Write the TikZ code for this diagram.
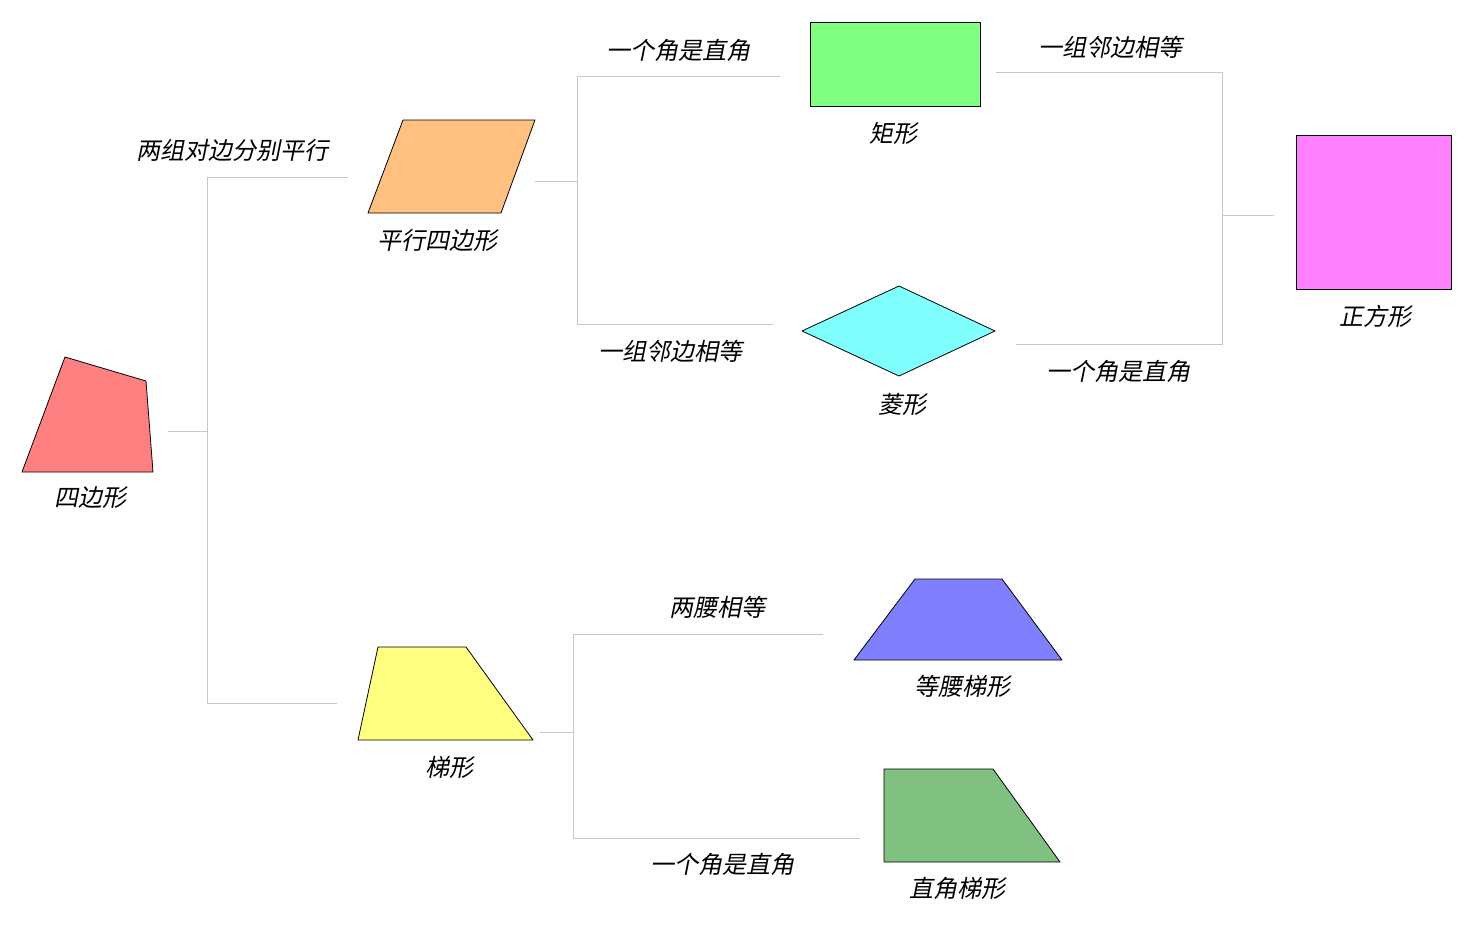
\documentclass[tikz,border=0pt]{standalone}
\usepackage{fontspec}
\newfontfamily\cjk{Noto Sans CJK SC}[FakeSlant=0.2]
\usetikzlibrary{calc}
\tikzset{
  figure/.style={draw=black,thick,line join=round},
  branch/.style={draw=black!22,thick},
  lbl/.style={font=\cjk\fontsize{24}{26}\selectfont,inner sep=0pt}
}
\begin{document}
\begin{tikzpicture}[x=1pt,y=-1pt]
            \useasboundingbox (0,0) rectangle (1473,926);
            % Shapes
            \filldraw[figure,fill={rgb,255:red,255;green,128;blue,128}](65,357)--(146,381)--(153,472)--(22,472)--cycle;
            \filldraw[figure,fill={rgb,255:red,255;green,192;blue,128}](403,120)--(535,120)--(501,213)--(368,213)--cycle;
            \filldraw[figure,fill={rgb,255:red,128;green,255;blue,128}](810,22)rectangle(980,106);
            \filldraw[figure,fill={rgb,255:red,128;green,255;blue,255}](899,286)--(995,331)--(899,376)--(802,331)--cycle;
            \filldraw[figure,fill={rgb,255:red,255;green,128;blue,255}](1296,135)rectangle(1451,289);
            \filldraw[figure,fill={rgb,255:red,255;green,255;blue,128}](378,647)--(466,647)--(533,740)--(358,740)--cycle;
            \filldraw[figure,fill={rgb,255:red,128;green,128;blue,255}](915,579)--(1002,579)--(1062,660)--(854,660)--cycle;
            \filldraw[figure,fill={rgb,255:red,128;green,192;blue,128}](884,769)--(993,769)--(1060,862)--(884,862)--cycle;
            % Shape names
            \node[lbl](quad) at (90,498){四边形};
            \node[lbl](para) at (437,240){平行四边形};
            \node[lbl](rect) at (893,133){矩形};
            \node[lbl](rhom) at (902,404){菱形};
            \node[lbl](sqr) at (1375,316){正方形};
            \node[lbl](trap) at (449,767){梯形};
            \node[lbl](iso) at (962,686){等腰梯形};
            \node[lbl](rtrap) at (957,888){直角梯形};
            % Branches
            \draw[branch](168,431)--(207,431);
            \draw[branch](348,177)--(207,177)--(207,703)--(337,703);
            \draw[branch](535,181)--(577,181);
            \draw[branch](780,76)--(577,76)--(577,324)--(773,324);
            \draw[branch](996,72)--(1222,72)--(1222,344)--(1016,344);
            \draw[branch](1222,215)--(1274,215);
            \draw[branch](540,732)--(573,732);
            \draw[branch](823,634)--(573,634)--(573,838)--(860,838);
            % Conditions
            \node[lbl](c1) at (232,150){两组对边分别平行};
            \node[lbl](c2) at (678,50){一个角是直角};
            \node[lbl](c3) at (670,351){一组邻边相等};
            \node[lbl](c4) at (1110,47){一组邻边相等};
            \node[lbl](c5) at (1118,371){一个角是直角};
            \node[lbl](c6) at (717,607){两腰相等};
            \node[lbl](c7) at (722,864){一个角是直角};
        \end{tikzpicture}
\end{document}
